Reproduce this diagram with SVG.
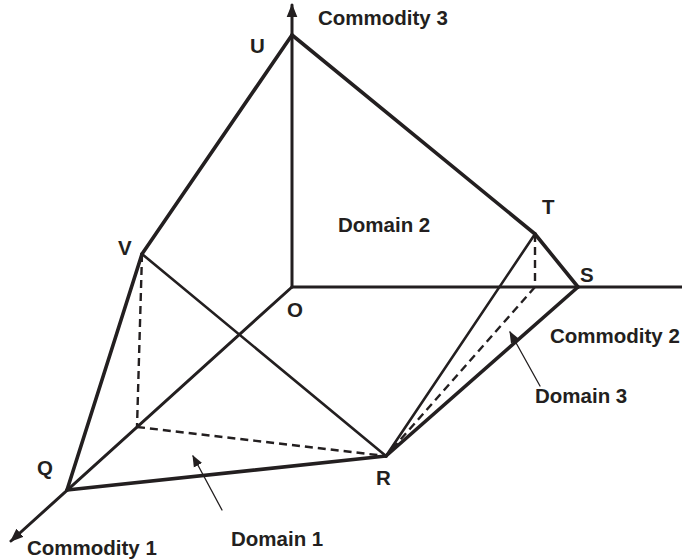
<svg xmlns="http://www.w3.org/2000/svg" width="682" height="559" viewBox="0 0 682 559">
<style>
.t{font-family:"Liberation Sans",Arial,sans-serif;font-weight:bold;font-size:20.5px;fill:#231f20}
.ln{stroke:#231f20;fill:none;stroke-linecap:round;stroke-linejoin:round}
.th{stroke-width:3.6}
.md{stroke-width:3}
.tn{stroke-width:2.6}
.ds{stroke-width:2.4;stroke-dasharray:8,5;stroke-linecap:butt}
.pt{stroke-width:1.3}
</style>
<defs>
<marker id="ax" viewBox="0 0 10 10" refX="9" refY="5" markerWidth="4.5" markerHeight="4.5" orient="auto" markerUnits="strokeWidth"><path d="M0,1 L10,5 L0,9 Z" fill="#231f20"/></marker>
<marker id="sm" viewBox="0 0 10 10" refX="9" refY="5" markerWidth="9" markerHeight="9" orient="auto" markerUnits="strokeWidth"><path d="M0,1 L10,5 L0,9 Z" fill="#231f20"/></marker>
</defs>
<g id="connectors">
<line class="ln md" x1="292" y1="287" x2="292" y2="5" marker-end="url(#ax)"/>
<line class="ln md" x1="292" y1="287" x2="682" y2="287"/>
<line class="ln md" x1="292" y1="287" x2="11" y2="541" marker-end="url(#ax)"/>
<line class="ln th" x1="292" y1="35" x2="142" y2="254"/>
<line class="ln th" x1="292" y1="35" x2="535" y2="234"/>
<line class="ln th" x1="535" y1="234" x2="578" y2="287"/>
<line class="ln th" x1="142" y1="254" x2="67" y2="490"/>
<line class="ln tn" x1="142" y1="254" x2="386" y2="456"/>
<line class="ln th" x1="67" y1="490" x2="386" y2="456"/>
<line class="ln th" x1="386" y1="456" x2="578" y2="287"/>
<line class="ln tn" x1="386" y1="456" x2="535" y2="234"/>
<line class="ln ds" x1="142" y1="254" x2="137" y2="427"/>
<line class="ln ds" x1="137" y1="427" x2="386" y2="456"/>
<line class="ln ds" x1="535" y1="234" x2="535" y2="287"/>
<line class="ln ds" x1="535" y1="287" x2="386" y2="456"/>
<line class="ln pt" x1="222" y1="510" x2="193" y2="456" marker-end="url(#sm)"/>
<line class="ln pt" x1="540" y1="386" x2="510" y2="332" marker-end="url(#sm)"/>
</g>
<g id="axis3"><text class="t" x="318" y="25">Commodity 3</text></g>
<g id="axis2"><text class="t" x="550" y="343">Commodity 2</text></g>
<g id="axis1"><text class="t" x="27" y="555">Commodity 1</text></g>
<g id="U"><text class="t" x="250" y="53">U</text></g>
<g id="T"><text class="t" x="542" y="214">T</text></g>
<g id="V"><text class="t" x="118" y="255">V</text></g>
<g id="S"><text class="t" x="580" y="282">S</text></g>
<g id="O"><text class="t" x="287" y="317">O</text></g>
<g id="Q"><text class="t" x="37" y="475">Q</text></g>
<g id="R"><text class="t" x="376" y="485">R</text></g>
<g id="domain2"><text class="t" x="338" y="232">Domain 2</text></g>
<g id="domain3"><text class="t" x="535" y="403">Domain 3</text></g>
<g id="domain1"><text class="t" x="231" y="546">Domain 1</text></g>
</svg>
